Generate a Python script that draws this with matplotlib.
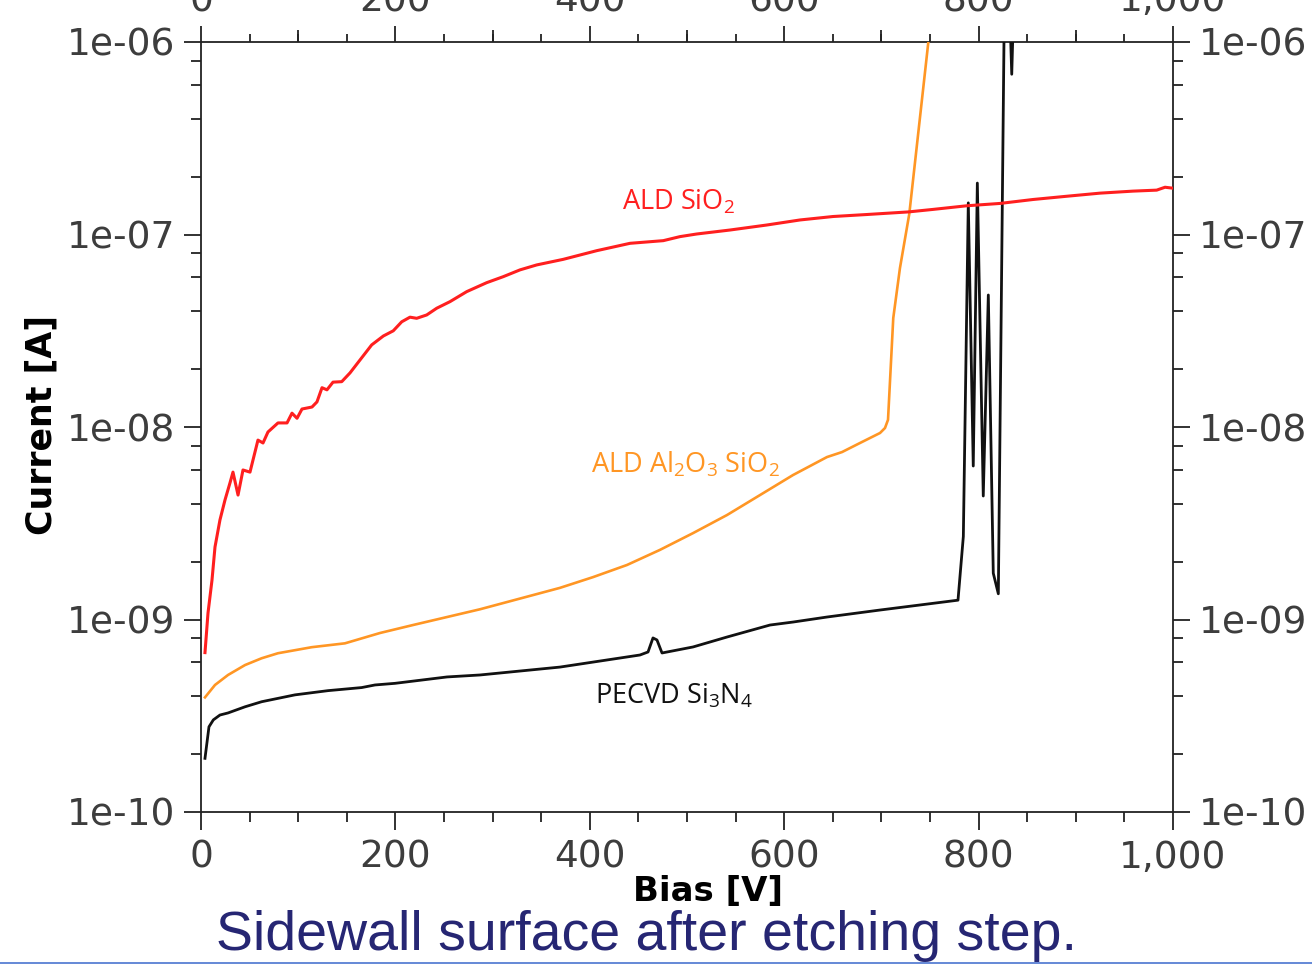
import matplotlib
matplotlib.use("Agg")
import matplotlib.pyplot as plt
from matplotlib.ticker import MultipleLocator, FixedLocator, LogLocator, FuncFormatter, NullFormatter
from matplotlib.lines import Line2D

# ---- measured I-V sweeps (bias in V, current in A) ----
ald_sio2_bias = [4.1, 7.2, 11.3, 14.4, 19.5, 24.7, 29.8, 32.9, 38.1, 43.2, 50.4, 58.6, 63.8,
                 68.9, 79.2, 88.5, 93.6, 98.8, 103.9, 114.2, 119.3, 124.5, 129.6, 135.8, 144.8,
                 153.3, 163.6, 175.6, 187.6, 197.8, 206.5, 215.0, 221.9, 232.2, 242.5, 256.2,
                 273.4, 293.9, 311.0, 328.2, 345.4, 372.7, 407.1, 441.4, 475.6, 492.8, 510.0,
                 544.2, 582.0, 616.3, 650.2, 684.9, 727.7, 753.1, 787.8, 822.0, 856.0, 890.6,
                 924.9, 958.8, 983.2, 991.8, 1000.0]
ald_sio2_current = [6.73e-10, 1.08e-9, 1.60e-9, 2.38e-9, 3.29e-9, 4.18e-9, 5.12e-9, 5.83e-9,
                    4.43e-9, 5.98e-9, 5.83e-9, 8.55e-9, 8.26e-9, 9.42e-9, 1.05e-8, 1.05e-8,
                    1.18e-8, 1.11e-8, 1.24e-8, 1.27e-8, 1.35e-8, 1.60e-8, 1.56e-8, 1.71e-8,
                    1.72e-8, 1.91e-8, 2.23e-8, 2.67e-8, 2.97e-8, 3.16e-8, 3.52e-8, 3.72e-8,
                    3.67e-8, 3.82e-8, 4.14e-8, 4.48e-8, 5.05e-8, 5.62e-8, 6.04e-8, 6.55e-8,
                    6.95e-8, 7.43e-8, 8.24e-8, 9.00e-8, 9.29e-8, 9.75e-8, 1.006e-7, 1.055e-7,
                    1.12e-7, 1.19e-7, 1.24e-7, 1.27e-7, 1.31e-7, 1.35e-7, 1.41e-7, 1.45e-7,
                    1.52e-7, 1.58e-7, 1.64e-7, 1.68e-7, 1.70e-7, 1.76e-7, 1.74e-7]

ald_al2o3_bias = [4.1, 14.4, 27.8, 45.3, 62.4, 79.2, 113.9, 148.1, 184.2, 218.1, 253.1, 287.0,
                  369.3, 403.3, 438.3, 472.2, 506.2, 541.2, 575.1, 609.1, 644.0, 659.5, 678.0,
                  698.6, 703.7, 706.8, 712.2, 719.1, 728.7, 748.3, 750.0]
ald_al2o3_current = [3.94e-10, 4.57e-10, 5.15e-10, 5.80e-10, 6.29e-10, 6.68e-10, 7.18e-10,
                     7.52e-10, 8.51e-10, 9.36e-10, 1.03e-9, 1.13e-9, 1.46e-9, 1.66e-9, 1.92e-9,
                     2.30e-9, 2.81e-9, 3.49e-9, 4.43e-9, 5.63e-9, 6.98e-9, 7.41e-9, 8.26e-9,
                     9.31e-9, 9.88e-9, 1.09e-8, 3.68e-8, 6.70e-8, 1.28e-7, 1.0e-6, 1.1e-6]

pecvd_sin_bias = [4.1, 8.2, 12.7, 19.5, 27.8, 45.3, 62.4, 96.7, 130.7, 165.3, 179.0, 199.6,
                  253.1, 287.0, 369.3, 451.6, 459.9, 465.0, 469.1, 474.3, 506.2, 541.2, 585.4,
                  609.1, 644.0, 698.6, 778.8, 784.3, 789.4, 794.5, 798.7, 804.8, 810.0, 815.1,
                  820.3, 826.1, 829.0, 832.0, 834.1, 836.0, 840.0]
pecvd_sin_current = [1.90e-10, 2.77e-10, 3.01e-10, 3.19e-10, 3.27e-10, 3.52e-10, 3.74e-10,
                     4.06e-10, 4.27e-10, 4.43e-10, 4.57e-10, 4.66e-10, 5.03e-10, 5.15e-10,
                     5.66e-10, 6.54e-10, 6.78e-10, 8.02e-10, 7.83e-10, 6.70e-10, 7.20e-10,
                     8.11e-10, 9.36e-10, 9.70e-10, 1.03e-9, 1.12e-9, 1.26e-9, 2.70e-9, 1.46e-7,
                     6.27e-9, 1.85e-7, 4.38e-9, 4.85e-8, 1.74e-9, 1.36e-9, 1.0e-6, 3.0e-6,
                     1.5e-6, 6.8e-7, 1.5e-6, 3.0e-6]

series_labels = [r"ALD SiO$_2$", r"ALD Al$_2$O$_3$ SiO$_2$", r"PECVD Si$_3$N$_4$"]
label_bias = [490.7, 498.5, 486.6]
label_current = [1.35e-7, 5.83e-9, 3.68e-10]

RED = "#ff1f1f"
ORANGE = "#ff9624"
BLACK = "#111111"
TICK_TXT = "#3d3d3d"
AX_COL = "#222222"

plt.rcParams["mathtext.fontset"] = "custom"
plt.rcParams["mathtext.rm"] = "Open Sans"
plt.rcParams["mathtext.it"] = "Open Sans"

W, H = 1312, 964
fig = plt.figure(figsize=(W / 100, H / 100), dpi=100)
ax = fig.add_axes([201 / W, 1 - 812 / H, 972 / W, 770 / H])

ax.plot(pecvd_sin_bias, pecvd_sin_current, color=BLACK, lw=2.0, zorder=3)
ax.plot(ald_al2o3_bias, ald_al2o3_current, color=ORANGE, lw=1.9, zorder=4)
ax.plot(ald_sio2_bias, ald_sio2_current, color=RED, lw=2.2, zorder=5)

ax.set_xlim(0, 1000)
ax.set_yscale("log")
ax.set_ylim(1e-10, 1e-6)

for s in ax.spines.values():
    s.set_linewidth(1.3)
    s.set_color(AX_COL)
ax.spines["top"].set_visible(False)

ax.xaxis.set_major_locator(MultipleLocator(200))
ax.xaxis.set_minor_locator(MultipleLocator(50))
ax.xaxis.set_major_formatter(FuncFormatter(lambda v, p: f"{v:,.0f}"))
ax.yaxis.set_major_locator(LogLocator(base=10))
ax.yaxis.set_minor_locator(LogLocator(base=10, subs=(2, 4, 6, 8)))
ax.yaxis.set_major_formatter(FuncFormatter(lambda v, p: f"{v:.0e}"))
ax.yaxis.set_minor_formatter(NullFormatter())

ax.tick_params(axis="x", which="major", direction="out", length=13, width=1.3,
               color=AX_COL, labelsize=27, labelcolor=TICK_TXT, pad=7)
ax.tick_params(axis="x", which="minor", direction="out", length=7.5, width=1.3, color=AX_COL)
ax.tick_params(axis="y", which="major", direction="out", length=12.5, width=1.3,
               color=AX_COL, labelsize=27, labelcolor=TICK_TXT, pad=6,
               left=True, right=True, labelleft=True, labelright=True)
ax.tick_params(axis="y", which="minor", direction="out", length=7, width=1.3,
               color=AX_COL, left=True, right=True)

# top axis: labelled majors, odd hundreds, and fifties
top = ax.secondary_xaxis("top")
top.xaxis.set_major_locator(MultipleLocator(200))
top.xaxis.set_minor_locator(MultipleLocator(50))
top.xaxis.set_major_formatter(FuncFormatter(lambda v, p: f"{v:,.0f}"))
top.tick_params(which="major", direction="out", length=11.5, width=1.3, color=AX_COL,
                labelsize=27, labelcolor=TICK_TXT, pad=5)
top.tick_params(which="minor", direction="out", length=6, width=1.3, color=AX_COL)
top.spines["top"].set_linewidth(1.3)
top.spines["top"].set_color(AX_COL)
mid = ax.secondary_xaxis("top")
mid.xaxis.set_major_locator(FixedLocator([100, 300, 500, 700, 900]))
mid.xaxis.set_minor_locator(FixedLocator([]))
mid.xaxis.set_major_formatter(NullFormatter())
mid.tick_params(which="major", direction="out", length=8.6, width=1.3, color=AX_COL,
                labeltop=False)
mid.spines["top"].set_visible(False)

colors = [RED, ORANGE, BLACK]
for lab, xv, yv, c in zip(series_labels, label_bias, label_current, colors):
    ax.text(xv, yv, lab, color=c, ha="center", va="baseline", fontsize=19.5,
            family="Open Sans", zorder=6)

fig.text(708 / W, 1 - 891 / H, "Bias [V]", ha="center", va="center", fontsize=24.5,
         fontweight="bold", color="black", family="DejaVu Sans")
fig.text(42 / W, 1 - 425 / H, "Current [A]", ha="center", va="center", rotation=90,
         fontsize=25, fontweight="bold", color="black", family="DejaVu Sans")

fig.text(646 / W, 1 - 950 / H, "Sidewall surface after etching step.", ha="center",
         va="baseline", fontsize=40, color="#262673", family="Liberation Sans")

fig.add_artist(Line2D([0, 1], [1 - 962.5 / H, 1 - 962.5 / H], transform=fig.transFigure,
                      color="#4a74cf", lw=1.2))

fig.savefig("out.png", dpi=100)
